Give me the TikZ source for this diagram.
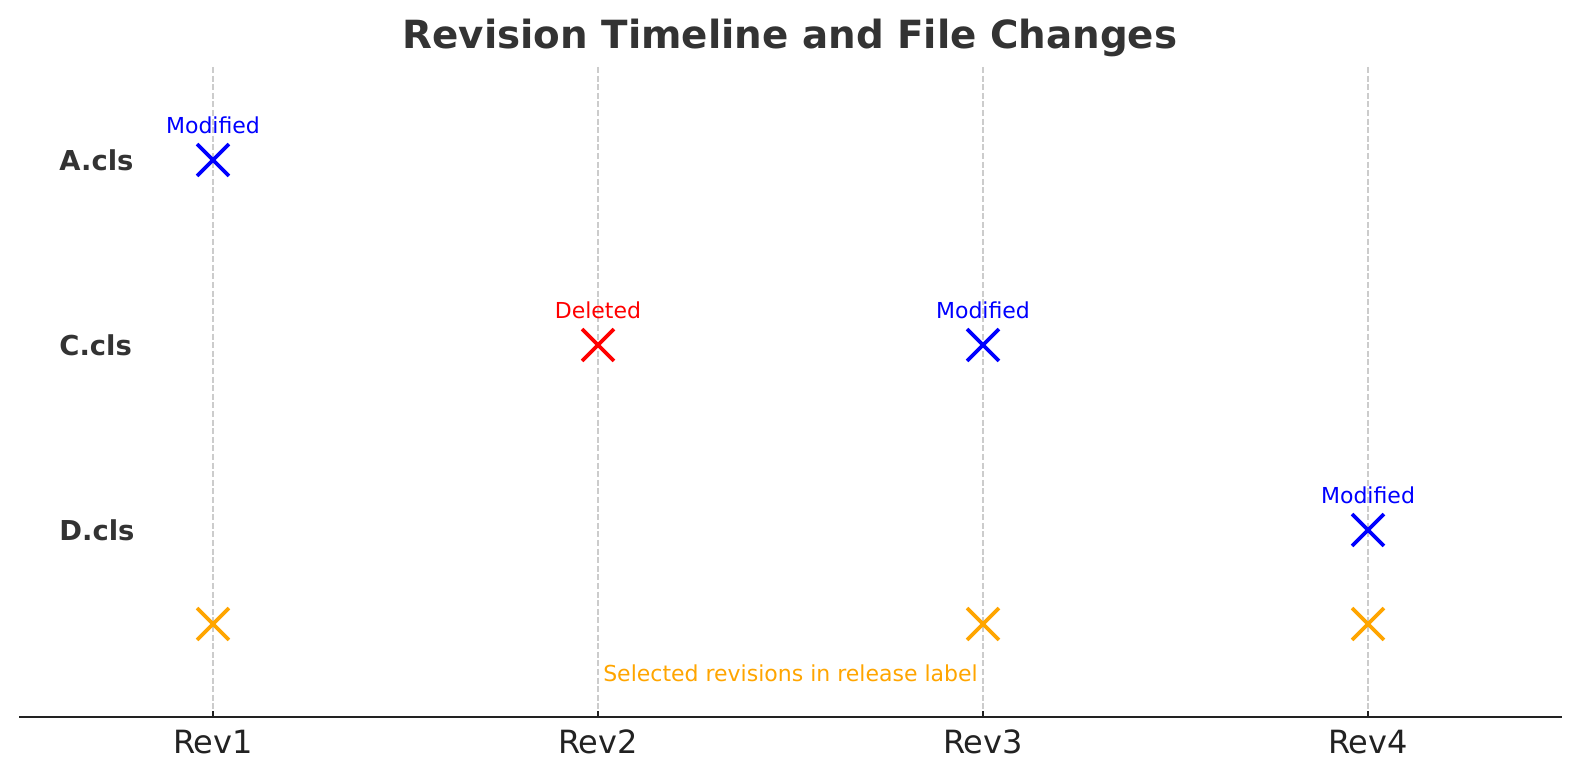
\documentclass[tikz,border=0pt]{standalone}
\usepackage{fontspec}
\setmainfont{DejaVu Sans}
\usetikzlibrary{shapes, positioning, calc}
\definecolor{txtgray}{HTML}{333333}
\definecolor{axgray}{HTML}{222222}
\definecolor{gridgray}{HTML}{CCCCCC}
\definecolor{selorange}{RGB}{255,165,0}
\tikzstyle{markb}=[shape=cross out, draw=blue, line width=1.9pt, inner sep=0pt, minimum size=14pt]
\tikzstyle{markr}=[shape=cross out, draw=red, line width=1.9pt, inner sep=0pt, minimum size=14pt]
\tikzstyle{marko}=[shape=cross out, draw=selorange, line width=1.9pt, inner sep=0pt, minimum size=14pt]
\tikzstyle{filelab}=[anchor=west, inner sep=0pt, text=txtgray, font=\fontsize{13.7}{16}\selectfont\bfseries]
\tikzstyle{revlab}=[inner sep=0pt, text=axgray, font=\fontsize{16}{19}\selectfont]
\tikzstyle{small}=[inner sep=0pt, font=\fontsize{11}{13}\selectfont]
\tikzstyle{gridln}=[gridgray, line width=0.8pt, dash pattern=on 3pt off 1.3pt]

\begin{document}
\begin{tikzpicture}[x=0.5pt, y=-0.5pt]
\useasboundingbox (0,0) rectangle (1580,780);
\node [text=txtgray, font=\fontsize{19.4}{23}\selectfont\bfseries] (title) at (790,38){Revision Timeline and File Changes};
% axis and grid
\coordinate (axl) at (19,717); \coordinate (axr) at (1562,717);
\coordinate (t1) at (213,67); \coordinate (t2) at (598,67); \coordinate (t3) at (983,67); \coordinate (t4) at (1368,67);
\coordinate (b1) at (213,717); \coordinate (b2) at (598,717); \coordinate (b3) at (983,717); \coordinate (b4) at (1368,717);
\draw [gridln] (t1) -- (b1) (t2) -- (b2) (t3) -- (b3) (t4) -- (b4);
\draw [axgray, line width=0.9pt] (b1) -- ++(0,-6) (b2) -- ++(0,-6) (b3) -- ++(0,-6) (b4) -- ++(0,-6);
\draw [axgray, line width=1.2pt] (axl) -- (axr);
\node [revlab] (r1) at (213,742){Rev1}; \node [revlab] (r2) at (598,742){Rev2};
\node [revlab] (r3) at (983,742){Rev3}; \node [revlab] (r4) at (1368,742){Rev4};
% files
\node [filelab] (fa) at (59,160){A.cls};
\node [filelab] (fc) at (59,345){C.cls};
\node [filelab] (fd) at (59,530){D.cls};
% changes
\node [markb, label={[small, text=blue, label distance=5pt]above:{Modified}}] (a1) at (213,160){};
\node [markr, label={[small, text=red, label distance=5pt]above:{Deleted}}] (c2) at (598,345){};
\node [markb, label={[small, text=blue, label distance=5pt]above:{Modified}}] (c3) at (983,345){};
\node [markb, label={[small, text=blue, label distance=5pt]above:{Modified}}] (d4) at (1368,530){};
% release label
\node [marko] (s1) at (213,624){}; \node [marko] (s3) at (983,624){}; \node [marko] (s4) at (1368,624){};
\node [small, text=selorange] (sel) at ($(b2)!0.5!(b3)+(0,-44)$){Selected revisions in release label};
\end{tikzpicture}
\end{document}
